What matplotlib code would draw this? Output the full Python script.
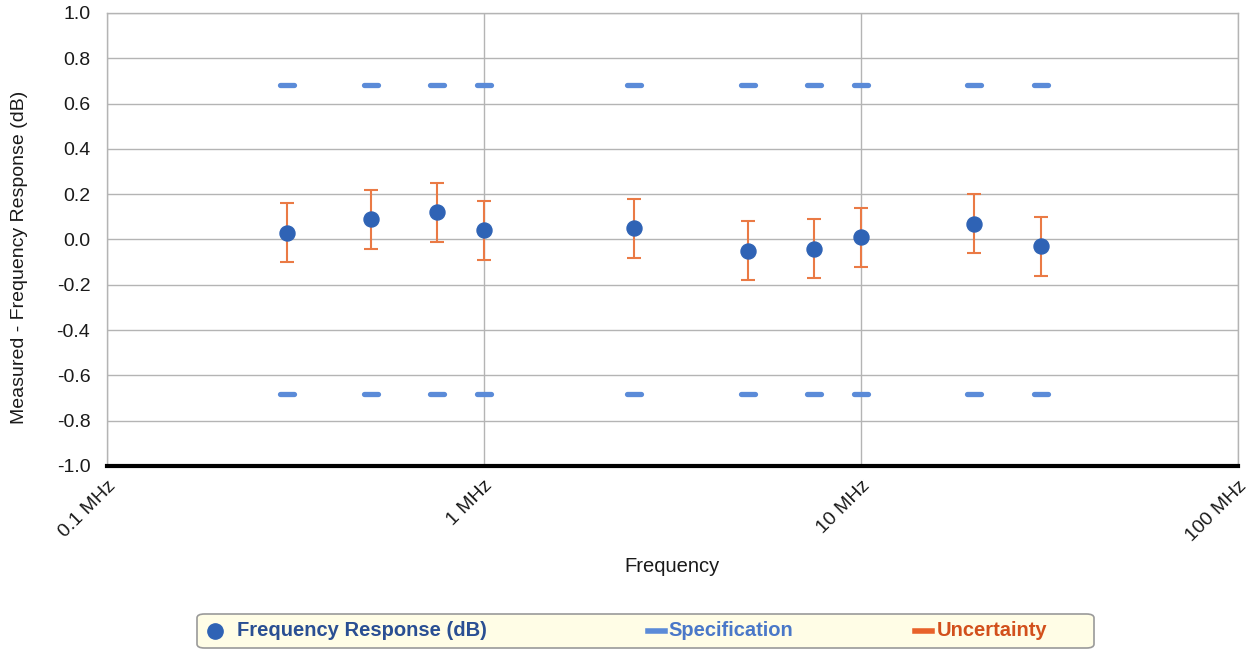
import matplotlib
matplotlib.use("Agg")
import matplotlib.pyplot as plt
from matplotlib.patches import FancyBboxPatch
from matplotlib.lines import Line2D
from matplotlib.markers import MarkerStyle

plt.rcParams['font.family'] = ['Liberation Sans', 'DejaVu Sans']
plt.rcParams['axes.unicode_minus'] = False

# Test frequencies (MHz) and measured deviation (dB)
freq_mhz = [0.3, 0.5, 0.75, 1.0, 2.5, 5.0, 7.5, 10.0, 20.0, 30.0]
response_db = [0.03, 0.09, 0.12, 0.04, 0.05, -0.05, -0.04, 0.01, 0.07, -0.03]
uncertainty_db = [0.13, 0.13, 0.13, 0.13, 0.13, 0.13, 0.13, 0.13, 0.13, 0.13]
spec_upper = [0.68] * 10
spec_lower = [-0.68] * 10

x_ticks = [0.1, 1, 10, 100]
x_tick_labels = ["0.1 MHz", "1 MHz", "10 MHz", "100 MHz"]
y_ticks = [-1.0, -0.8, -0.6, -0.4, -0.2, 0.0, 0.2, 0.4, 0.6, 0.8, 1.0]

C_POINT = "#2f63b5"
C_SPEC = "#5b8bd8"
C_UNC = "#ea7a45"
C_GRID = "#b4b4b4"

fig = plt.figure(figsize=(12.52, 6.5), dpi=100)
ax = fig.add_axes([107 / 1252, 1 - 466 / 650, (1238 - 107) / 1252, (466 - 13) / 650])

ax.set_xscale("log")
ax.set_xlim(0.1, 100)
ax.set_ylim(-1.0, 1.0)

# specification limits, drawn as short rounded dashes
dash = MarkerStyle("_", capstyle="round")
ax.plot(freq_mhz, spec_upper, linestyle="none", marker=dash, ms=9.5, mew=3.8,
        color=C_SPEC, zorder=3)
ax.plot(freq_mhz, spec_lower, linestyle="none", marker=dash, ms=9.5, mew=3.8,
        color=C_SPEC, zorder=3)

# uncertainty bars
ax.errorbar(freq_mhz, response_db, yerr=uncertainty_db, fmt="none",
            ecolor=C_UNC, elinewidth=1.5, capsize=5, capthick=1.5, zorder=4)

# measured points
ax.plot(freq_mhz, response_db, linestyle="none", marker="o", ms=10.8,
        color=C_POINT, zorder=5)

ax.set_yticks(y_ticks)
ax.set_yticklabels([f"{v:.1f}" for v in y_ticks])
ax.set_xticks(x_ticks)
ax.set_xticklabels(x_tick_labels)
ax.xaxis.set_minor_locator(matplotlib.ticker.NullLocator())
for lab in ax.get_xticklabels():
    lab.set_rotation(45)
    lab.set_ha("right")
    lab.set_rotation_mode("anchor")

ax.tick_params(axis="both", length=0, labelsize=14, colors="#1a1a1a")
ax.tick_params(axis="x", pad=8)
ax.tick_params(axis="y", pad=12)

ax.grid(True, which="major", color=C_GRID, linewidth=1)
ax.set_axisbelow(True)
for side in ("left", "right", "top"):
    ax.spines[side].set_color(C_GRID)
    ax.spines[side].set_linewidth(1)
ax.spines["bottom"].set_color("black")
ax.spines["bottom"].set_linewidth(3)
ax.spines["bottom"].set_zorder(6)

ax.set_ylabel("Measured - Frequency Response (dB)", fontsize=14, color="#1a1a1a")
ax.yaxis.set_label_coords(-0.0698, 0.461)
ax.set_xlabel("Frequency", fontsize=14.5, color="#1a1a1a", labelpad=9)

# legend box
W, H = 1252.0, 650.0
box = FancyBboxPatch((197 / W, 1 - 648 / H), (1094 - 197) / W, (648 - 614) / H,
                     boxstyle="round,pad=0,rounding_size=0.006",
                     transform=fig.transFigure, facecolor="#fffde6",
                     edgecolor="#9a9a9a", linewidth=1.2)
fig.patches.append(box)
ly = 1 - 631 / H
fig.lines.append(Line2D([215 / W], [ly], marker="o", ms=11, color=C_POINT,
                        transform=fig.transFigure))
fig.text(237 / W, ly, "Frequency Response (dB)", fontsize=14.5, fontweight="bold",
         color="#2a4f93", va="center", ha="left")
fig.lines.append(Line2D([648 / W, 665 / W], [ly, ly], lw=4, color=C_SPEC,
                        transform=fig.transFigure))
fig.text(668 / W, ly, "Specification", fontsize=14.5, fontweight="bold",
         color="#4a78c8", va="center", ha="left")
fig.lines.append(Line2D([915 / W, 932 / W], [ly, ly], lw=4, color="#e8622a",
                        transform=fig.transFigure))
fig.text(937 / W, ly, "Uncertainty", fontsize=14.5, fontweight="bold",
         color="#d2501c", va="center", ha="left")

fig.savefig("out.png", dpi=100, facecolor="white")
